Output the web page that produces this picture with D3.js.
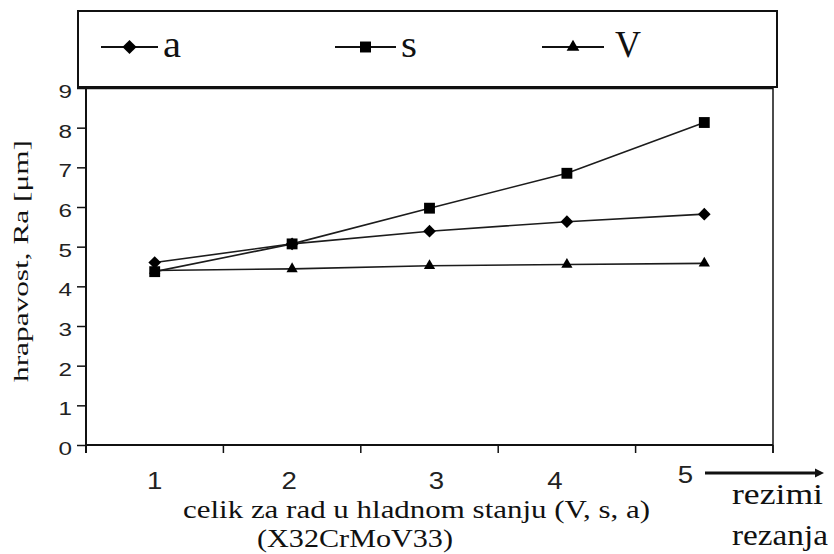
<!DOCTYPE html>
<html>
<head>
<meta charset="utf-8">
<script src="https://cdn.jsdelivr.net/npm/d3@7"></script>
<style>
  html, body { margin: 0; padding: 0; background: #fff; }
  svg { display: block; }
</style>
</head>
<body>
<svg id="chart" width="834" height="554"></svg>
<script>
// ---- data ----
const categories = ["1", "2", "3", "4", "5"];
const seriesNames = ["a", "s", "V"];
const valuesA = [4.60, 5.07, 5.39, 5.63, 5.82];
const valuesS = [4.37, 5.07, 5.97, 6.85, 8.13];
const valuesV = [4.40, 4.44, 4.52, 4.55, 4.58];
const yTickValues = [0, 1, 2, 3, 4, 5, 6, 7, 8, 9];
const yTitle = "hrapavost, Ra [μm]";
const xTitleLine1 = "celik za rad u hladnom stanju (V, s, a)";
const xTitleLine2 = "(X32CrMoV33)";
const arrowLabel1 = "rezimi";
const arrowLabel2 = "rezanja";

// ---- layout ----
const W = 834, H = 554;
const plot = { left: 86, right: 773, top: 88, bottom: 445 };
const labelNudge = [0, -3, 7, -12, -19];
const ink = "#111";
const SERIF = "Liberation Serif";
const SANS = "Liberation Sans";

const svg = d3.select("#chart");
svg.append("rect").attr("width", W).attr("height", H).attr("fill", "#fff");

const x = d3.scaleBand().domain(categories).range([plot.left, plot.right]).padding(0);
const y = d3.scaleLinear().domain([0, 9]).range([plot.bottom, plot.top]);
const cx = c => x(c) + x.bandwidth() / 2;

// ---- legend box ----
svg.append("rect")
  .attr("x", 78).attr("y", 11).attr("width", 699).attr("height", 76)
  .attr("fill", "none").attr("stroke", ink).attr("stroke-width", 2);

// ---- plot frame ----
const frame = svg.append("g").attr("stroke", ink).attr("fill", "none");
frame.append("line").attr("x1", plot.left).attr("x2", plot.right)
  .attr("y1", plot.top).attr("y2", plot.top).attr("stroke-width", 2.5);
frame.append("line").attr("x1", plot.right).attr("x2", plot.right)
  .attr("y1", plot.top).attr("y2", plot.bottom + 8).attr("stroke-width", 1.5);
frame.append("line").attr("x1", plot.left).attr("x2", plot.left)
  .attr("y1", plot.top).attr("y2", plot.bottom + 8).attr("stroke-width", 2);
frame.append("line").attr("x1", plot.left).attr("x2", plot.right)
  .attr("y1", plot.bottom).attr("y2", plot.bottom).attr("stroke-width", 2);

// ---- y axis ----
const yAxis = d3.axisLeft(y).tickValues(yTickValues).tickSize(9).tickSizeOuter(0).tickPadding(5)
  .tickFormat(d3.format("d"));
const yg = svg.append("g").attr("transform", `translate(${plot.left},0)`).call(yAxis)
  .attr("font-family", SANS).attr("font-size", 18);
yg.select(".domain").remove();
yg.selectAll(".tick line").attr("stroke", ink).attr("stroke-width", 1.5);
yg.selectAll(".tick text")
  .attr("font-family", SANS)
  .attr("fill", "#222")
  .attr("font-size", 18)
  .attr("dy", "0.52em")
  .attr("textLength", 13.5).attr("lengthAdjust", "spacingAndGlyphs");

// ---- x axis (ticks at band boundaries) ----
const bounds = categories.map(c => x(c)).concat([x.range()[1]]);
svg.append("g").selectAll("line").data(bounds).join("line")
  .attr("x1", d => d).attr("x2", d => d)
  .attr("y1", plot.bottom).attr("y2", plot.bottom + 8)
  .attr("stroke", ink).attr("stroke-width", 1.5);

svg.append("g").selectAll("text").data(categories).join("text")
  .attr("font-family", SANS)
  .attr("transform", (c, i) => `translate(${cx(c) + labelNudge[i]},${i === 4 ? 483 : 489}) scale(1.2,1)`)
  .attr("text-anchor", "middle")
  .attr("font-size", 23)
  .attr("fill", "#222")
  .text(c => c);

// ---- series ----
const seriesData = [valuesA, valuesS, valuesV];
const symbols = [
  { type: d3.symbolSquare, size: 80, rot: 45 },
  { type: d3.symbolSquare, size: 118, rot: 0 },
  { type: d3.symbolTriangle, size: 55, rot: 0 }
];
const line = d3.line().x(d => cx(d.c)).y(d => y(d.v));

seriesData.forEach((vals) => {
  const pts = categories.map((c, i) => ({ c, v: vals[i] }));
  svg.append("path").datum(pts)
    .attr("d", line).attr("fill", "none")
    .attr("stroke", "#1c1c1c").attr("stroke-width", 1.6);
});
seriesData.forEach((vals, si) => {
  const pts = categories.map((c, i) => ({ c, v: vals[i] }));
  const sym = symbols[si];
  svg.append("g").selectAll("path").data(pts).join("path")
    .attr("d", d3.symbol(sym.type, sym.size))
    .attr("transform", d => `translate(${cx(d.c)},${y(d.v)}) rotate(${sym.rot})`)
    .attr("fill", "#000");
});

// ---- legend items ----
const legendItems = [
  { x1: 101, x2: 158, tx: 163, len: 18 },
  { x1: 335, x2: 396, tx: 401, len: 16 },
  { x1: 542, x2: 604, tx: 615, len: 26 }
];
const legendSymbols = [
  { type: d3.symbolSquare, size: 100, rot: 45 },
  { type: d3.symbolSquare, size: 120, rot: 0 },
  { type: d3.symbolTriangle, size: 70, rot: 0 }
];
seriesNames.forEach((name, i) => {
  const it = legendItems[i];
  const g = svg.append("g");
  g.append("line").attr("x1", it.x1).attr("x2", it.x2).attr("y1", 47).attr("y2", 47)
    .attr("stroke", ink).attr("stroke-width", 2);
  g.append("path").attr("d", d3.symbol(legendSymbols[i].type, legendSymbols[i].size))
    .attr("transform", `translate(${(it.x1 + it.x2) / 2},${47}) rotate(${legendSymbols[i].rot})`)
    .attr("fill", "#000");
  g.append("text").attr("font-family", SERIF).attr("x", it.tx).attr("y", 57)
    .attr("font-size", 37)
    .attr("fill", "#111")
    .attr("textLength", it.len).attr("lengthAdjust", "spacingAndGlyphs")
    .text(name);
});

// ---- titles ----
svg.append("text").attr("font-family", SERIF)
  .attr("transform", "translate(28,261) rotate(-90)")
  .attr("text-anchor", "middle")
  .attr("font-size", 22).attr("fill", "#111")
  .attr("textLength", 242).attr("lengthAdjust", "spacingAndGlyphs")
  .text(yTitle);

svg.append("text").attr("font-family", SERIF).attr("x", 183).attr("y", 518)
  .attr("font-size", 26).attr("fill", "#111")
  .attr("textLength", 467).attr("lengthAdjust", "spacingAndGlyphs")
  .text(xTitleLine1);
svg.append("text").attr("font-family", SERIF).attr("x", 257).attr("y", 547)
  .attr("font-size", 26).attr("fill", "#111")
  .attr("textLength", 196).attr("lengthAdjust", "spacingAndGlyphs")
  .text(xTitleLine2);

// ---- arrow + labels ----
svg.append("line").attr("x1", 705).attr("x2", 818).attr("y1", 473).attr("y2", 473)
  .attr("stroke", ink).attr("stroke-width", 3);
svg.append("path").attr("d", "M824,473 L815,468.5 L815,477.5 Z").attr("fill", ink);
svg.append("text").attr("font-family", SERIF).attr("x", 732).attr("y", 504)
  .attr("font-size", 30).attr("fill", "#111")
  .attr("textLength", 91).attr("lengthAdjust", "spacingAndGlyphs")
  .text(arrowLabel1);
svg.append("text").attr("font-family", SERIF).attr("x", 732).attr("y", 545)
  .attr("font-size", 30).attr("fill", "#111")
  .attr("textLength", 96).attr("lengthAdjust", "spacingAndGlyphs")
  .text(arrowLabel2);
</script>
</body>
</html>
